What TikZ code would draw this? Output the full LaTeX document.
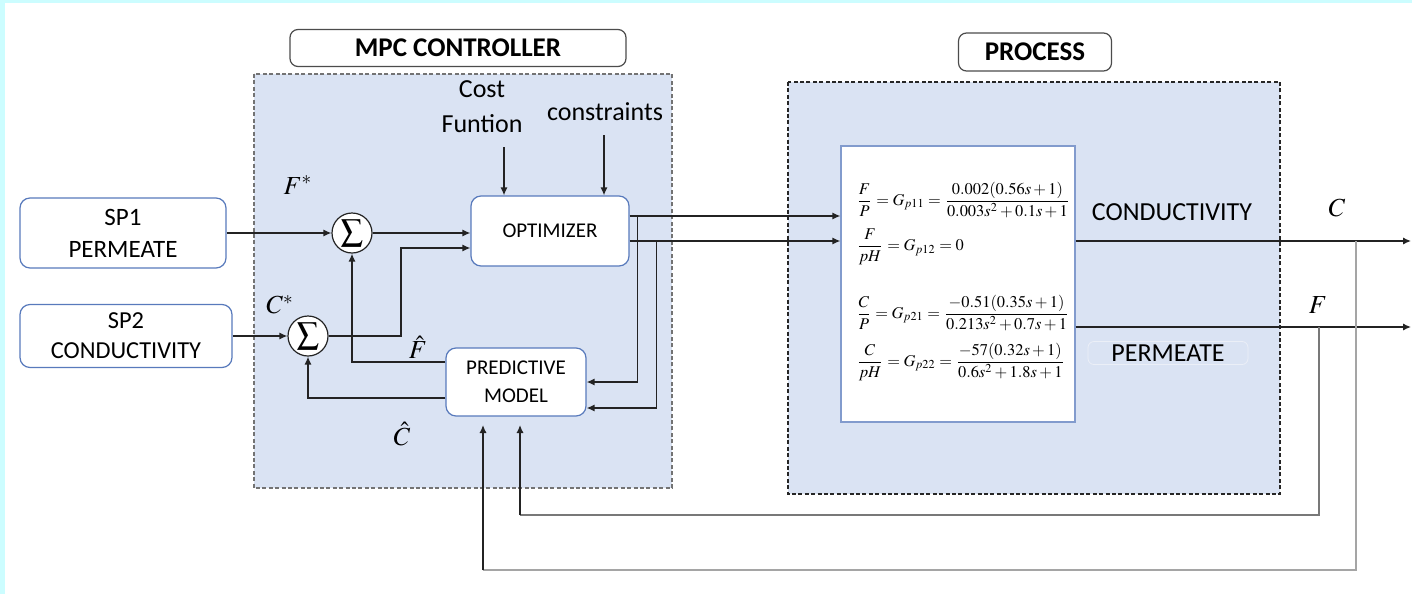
\documentclass[tikz,border=0pt]{standalone}
\usepackage{amsmath}
\usepackage{mathptmx}
\usepackage[no-math]{fontspec}
\setmainfont{Carlito}
\usetikzlibrary{arrows.meta,positioning,calc}
\definecolor{edgecyan}{RGB}{204,253,255}
\definecolor{panelblue}{RGB}{218,227,243}
\definecolor{boxblue}{RGB}{88,122,188}
\definecolor{linegray}{RGB}{35,35,35}
\definecolor{fbgray}{RGB}{165,165,165}
\definecolor{fbdark}{RGB}{120,120,120}
\tikzset{
  blk/.style    = {draw=boxblue, fill=white, rounded corners=5pt, align=center,
                   line width=0.6pt, inner sep=0pt},
  tagblk/.style = {draw=black!70, fill=white, rounded corners=4pt, align=center,
                   line width=0.6pt, inner sep=0pt, font=\fontsize{13.5}{16}\selectfont\bfseries},
  sumc/.style   = {circle, draw=linegray, fill=white, line width=0.6pt, minimum size=20pt,
                   inner sep=0pt, font=\fontsize{11}{11}\selectfont},
  panel/.style  = {fill=panelblue, line width=0.6pt, dash pattern=on 2pt off 1.2pt},
  ar/.style     = {-{Latex[length=4pt,width=3.6pt]}, draw=linegray, line width=0.7pt},
  fb/.style     = {draw=fbgray, line width=1pt},
  lbl/.style    = {align=center, inner sep=1pt, font=\fontsize{13}{17.5}\selectfont},
  mlbl/.style   = {inner sep=1pt, font=\fontsize{13}{13}\selectfont},
  eqn/.style    = {anchor=west, inner sep=0pt, font=\fontsize{8.2}{10}\selectfont}
}

\begin{document}
\begin{tikzpicture}[x=0.5pt, y=-0.5pt]
% ---- canvas ----
\useasboundingbox (0,0) rectangle (1412,594);
\fill[edgecyan] (0,0) rectangle (1412,594);
\fill[white] (5,3) rectangle (1412,594);

% ---- dashed panels ----
\draw[panel, draw=black!55] (254,74) rectangle (672,488);
\draw[panel, draw=black!85] (788,82) rectangle (1280,494);
\node[tagblk, minimum width=168pt, minimum height=18.5pt] (ctrltag) at (458,48) {MPC CONTROLLER};
\node[tagblk, minimum width=76.5pt, minimum height=19pt] (proctag) at (1035,52) {PROCESS};

% ---- set points ----
\node[blk, minimum width=103pt, minimum height=35pt, font=\fontsize{12.5}{16}\selectfont]
  (sp1) at (123,233) {SP1\\PERMEATE};
\node[blk, minimum width=106pt, minimum height=31.5pt, font=\fontsize{12.2}{15}\selectfont]
  (sp2) at (126,336) {SP2\\CONDUCTIVITY};

% ---- controller blocks ----
\node[sumc] (sumF) at (352,233) {$\displaystyle\sum$};
\node[sumc] (sumC) at (308,336) {$\displaystyle\sum$};
\node[blk, minimum width=79pt, minimum height=35pt, font=\fontsize{10.5}{14}\selectfont]
  (opt) at (550,231) {OPTIMIZER};
\node[blk, minimum width=70pt, minimum height=34pt, font=\fontsize{10.5}{14}\selectfont]
  (model) at (516,382) {PREDICTIVE\\MODEL};
\node[lbl] (cost) at (482,107) {Cost\\Funtion};
\node[lbl] (cons) at (605,112) {constraints};
\node[mlbl] (Fstar) at (298,185) {$F^{*}$};
\node[mlbl] (Cstar) at (280,305) {$C^{*}$};
\node[mlbl] (Fhat) at (418,347) {$\hat{F}$};
\node[mlbl] (Chat) at (402,434) {$\hat{C}$};

% ---- process block ----
\node[draw=boxblue!75, fill=white, line width=0.6pt, minimum width=117pt, minimum height=138pt,
  inner sep=0pt] (plant) at (958,284) {};
\node[eqn] (eq1) at (856,200) {$\dfrac{F}{P}=G_{p11}=\dfrac{0.002(0.56s+1)}{0.003s^{2}+0.1s+1}$};
\node[eqn] (eq2) at (856,247) {$\dfrac{F}{pH}=G_{p12}=0$};
\node[eqn] (eq3) at (856,313) {$\dfrac{C}{P}=G_{p21}=\dfrac{-0.51(0.35s+1)}{0.213s^{2}+0.7s+1}$};
\node[eqn] (eq4) at (856,362) {$\dfrac{C}{pH}=G_{p22}=\dfrac{-57(0.32s+1)}{0.6s^{2}+1.8s+1}$};
\node[lbl] (condtxt) at (1172,212) {CONDUCTIVITY};
\node[lbl, draw=boxblue!12, rounded corners=3pt, minimum width=80pt, minimum height=11.5pt]
  (permtxt) at (1168,353) {PERMEATE};
\node[mlbl] (Cout) at (1337,208) {$C$};
\node[mlbl] (Fout) at (1318,305) {$F$};

% ---- inputs ----
\draw[ar] (sp1.east) -- (sumF.west);
\draw[ar] (sp2.east) -- (sumC.west);
\draw[ar] (sumF.east) -- (sumF.east -| opt.west);
\coordinate (kC) at (401,248);
\draw[ar] (sumC.east) -| (kC) -- (kC -| opt.west);
\coordinate (costin) at (504,147);
\draw[ar] (costin) -- (costin |- opt.north);
\coordinate (consin) at (604,135);
\draw[ar] (consin) -- (consin |- opt.north);

% ---- optimizer outputs ----
\coordinate (ou1) at ($(opt.east)+(0,-15)$);
\coordinate (ou2) at ($(opt.east)+(0,10)$);
\draw[ar] (ou1) -- (ou1 -| plant.west);
\draw[ar] (ou2) -- (ou2 -| plant.west);
\coordinate (br1) at ($(ou1)+(8,0)$);
\coordinate (br2) at ($(ou2)+(27,0)$);
\coordinate (mi2) at ($(model.east)+(0,26)$);
\draw[ar] (br1) |- (model.east);
\draw[ar] (br2) |- (mi2);

% ---- model estimates back to the sums ----
\coordinate (moF) at ($(model.west)+(0,-20)$);
\coordinate (moC) at ($(model.west)+(0,16)$);
\draw[ar] (moF) -| (sumF.south);
\draw[ar] (moC) -| (sumC.south);

% ---- process outputs ----
\coordinate (endC) at (1411,241);
\coordinate (endF) at (1411,327);
\draw[ar] (plant.east |- endC) -- (endC);
\draw[ar] (plant.east |- endF) -- (endF);

% ---- feedback ----
\coordinate (tapC) at (1356,241);
\coordinate (tapF) at (1319,327);
\coordinate (fbC) at (1356,570);
\coordinate (fbF) at (1319,515);
\coordinate (inC) at (483,425);
\coordinate (inF) at (520,425);
\draw[fb] (tapC) -- (fbC) -- (fbC -| inC);
\draw[fb, draw=fbdark] (tapF) -- (fbF) -- (fbF -| inF);
\draw[ar] (fbC -| inC) -- (inC);
\draw[ar] (fbF -| inF) -- (inF);
\end{tikzpicture}
\end{document}
